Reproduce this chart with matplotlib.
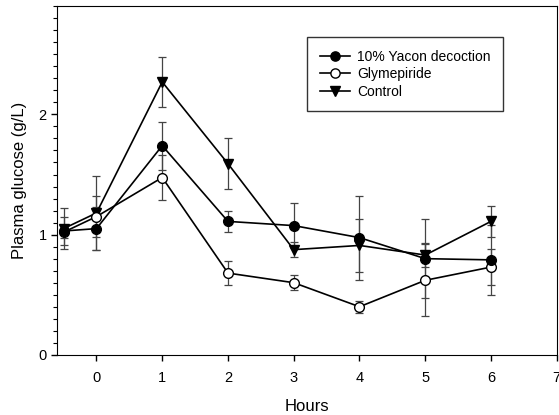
import numpy as np
import matplotlib.pyplot as plt
from matplotlib.ticker import MultipleLocator

plt.rcParams['font.family'] = ['Liberation Sans', 'DejaVu Sans']

hours = [-0.5, 0, 1, 2, 3, 4, 5, 6]

yacon = [1.03, 1.05, 1.74, 1.11, 1.075, 0.975, 0.80, 0.79]
yacon_err = [0.12, 0.18, 0.20, 0.09, 0.19, 0.35, 0.33, 0.29]

glym = [1.02, 1.15, 1.475, 0.68, 0.60, 0.40, 0.62, 0.73]
glym_err = [0.05, 0.17, 0.19, 0.10, 0.06, 0.05, 0.30, 0.15]

control = [1.05, 1.18, 2.27, 1.59, 0.875, 0.91, 0.83, 1.11]
control_err = [0.17, 0.31, 0.21, 0.21, 0.065, 0.22, 0.10, 0.13]

fig = plt.figure(figsize=(5.59, 4.15), dpi=100)
ax = fig.add_axes([0.102, 0.145, 0.894, 0.84])

kw = dict(color='black', lw=1.2, ms=7, ecolor='#444444', elinewidth=0.9,
          capsize=3, capthick=0.9)
ax.errorbar(hours, control, yerr=control_err, marker='v', mfc='black',
            label='Control', **kw)
ax.errorbar(hours, glym, yerr=glym_err, marker='o', mfc='white',
            label='Glymepiride', **kw)
ax.errorbar(hours, yacon, yerr=yacon_err, marker='o', mfc='black',
            label='10% Yacon decoction', **kw)

ax.set_xlim(-0.6, 7)
ax.set_ylim(0, 2.9)
ax.set_xticks(range(0, 8))
ax.yaxis.set_major_locator(MultipleLocator(1))
ax.yaxis.set_minor_locator(MultipleLocator(0.1))
ax.tick_params(axis='both', direction='out', labelsize=10.5, length=4, width=1)
ax.tick_params(axis='y', which='minor', length=3, width=0.8)
ax.tick_params(axis='x', pad=8)

ax.set_xlabel('Hours', fontsize=12, labelpad=10)
ax.set_ylabel('Plasma glucose (g/L)', fontsize=12, labelpad=8)

handles, labels = ax.get_legend_handles_labels()
order = [2, 1, 0]
leg = ax.legend([handles[i][0] for i in order], [labels[i] for i in order],
                loc='upper left', bbox_to_anchor=(0.501, 0.911), fontsize=10,
                frameon=True, fancybox=False, edgecolor='black',
                handlelength=2.2, borderpad=0.9, labelspacing=0.25,
                handletextpad=0.5, borderaxespad=0, markerscale=0.95)
leg.get_frame().set_linewidth(1.0)

plt.savefig('out.png', dpi=100)
